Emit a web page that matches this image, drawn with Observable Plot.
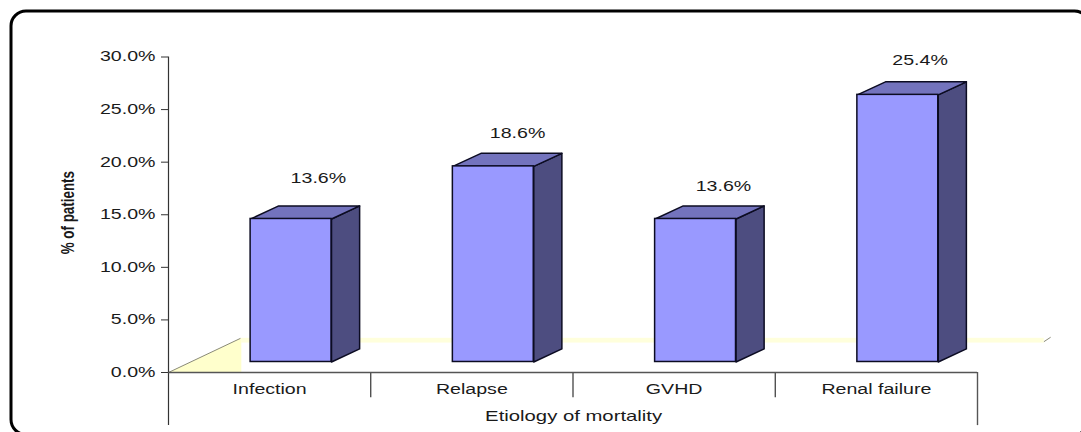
<!DOCTYPE html>
<html>
<head>
<meta charset="utf-8">
<script src="https://cdn.jsdelivr.net/npm/d3@7"></script>
<script src="https://cdn.jsdelivr.net/npm/@observablehq/plot@0.6"></script>
<style>
  html, body { margin: 0; padding: 0; background: #fff; }
  svg { display: block; }
</style>
</head>
<body>
<div id="chart"></div>
<script>
// Etiology of mortality, share of patients per cause
const categories = ["Infection", "Relapse", "GVHD", "Renal failure"];
const percentages = [13.6, 18.6, 13.6, 25.4];
const yTicks = [0, 5, 10, 15, 20, 25, 30];
const groupBoundaries = [1, 2, 3];

// Pseudo-3D construction, in axis units
const barStart = 0.406;
const barWidth = 0.4;
const depthX = 0.139;
const depthY = 1.24;
const floorLift = 1.0;
const labelLift = [3.8, 3.1, 3.1, 3.25];
const labelShift = [0.335, 0.32, 0.338, 0.31];

const bars = categories.map((name, i) => {
  const left = i + barStart;
  const right = left + barWidth;
  return {name, value: percentages[i], left, right, base: floorLift, top: percentages[i] + floorLift};
});

// Closed outlines for the top and side faces of each bar
const topFaces = bars.flatMap((b) => [
  [b.left, b.top], [b.left + depthX, b.top + depthY], [b.right + depthX, b.top + depthY], [b.right, b.top], [b.left, b.top]
].map(([x, y]) => ({id: b.name, x, y})));
const sideFaces = bars.flatMap((b) => [
  [b.right, b.top], [b.right + depthX, b.top + depthY], [b.right + depthX, b.base + depthY], [b.right, b.base], [b.right, b.top]
].map(([x, y]) => ({id: b.name, x, y})));

const floorWedge = [{x: 0, y: 0}, {x: 0.354, y: 3.23}, {x: 0.36, y: 3.23}, {x: 0.36, y: 0}];
const floorBand = [{x1: 0.36, x2: 4.33, y1: 2.8, y2: 3.25}];
const floorEdge = [{x: 0, y: 0}, {x: 0.354, y: 3.23}];
const floorCorner = [{x: 4.33, y: 2.95}, {x: 4.36, y: 3.33}];

const axisColor = "#555";
const barEdge = "#0c0c22";
const textColor = "#1a1a1a";
const font = 14;

const plot = Plot.plot({
  width: 1081,
  height: 432,
  marginTop: 0, marginRight: 0, marginBottom: 0, marginLeft: 0,
  style: {fontFamily: "'Liberation Sans', Arial, sans-serif", background: "#fff"},
  x: {type: "linear", domain: [0, 4], range: [168, 977], axis: null},
  y: {type: "linear", domain: [0, 30], range: [372, 56.5], axis: null},
  marks: [
    // Chart panel
    Plot.frame({stroke: "#000", strokeWidth: 3, fill: "none", rx: 15, insetLeft: 10.5, insetTop: 10.5, insetRight: -8, insetBottom: -2}),

    // Floor
    Plot.line(floorWedge, {x: "x", y: "y", fill: "#ffffcc", stroke: "none"}),
    Plot.rect(floorBand, {x1: "x1", x2: "x2", y1: "y1", y2: "y2", fill: "#ffffdc"}),
    Plot.line(floorEdge, {x: "x", y: "y", stroke: "#8a8a78", strokeWidth: 1}),
    Plot.line(floorCorner, {x: "x", y: "y", stroke: "#8a8a78", strokeWidth: 1}),

    // Value and category axes
    Plot.ruleX([0], {y1: -5.05, y2: 30, stroke: "#333", strokeWidth: 1.2}),
    Plot.ruleX([4], {y1: -5.05, y2: 0, stroke: axisColor, strokeWidth: 1.4}),
    Plot.ruleX(groupBoundaries, {y1: -2.4, y2: 0, stroke: "#333", strokeWidth: 1.2}),
    Plot.ruleY([0], {x1: 0, x2: 4, stroke: axisColor, strokeWidth: 1.6}),
    Plot.axisY(yTicks, {
      anchor: "left", x: 0, tickSize: 7, tickPadding: 6, fontSize: font, stroke: "#333", fill: textColor,
      tickFormat: (d) => d.toFixed(1) + "%", label: null
    }),

    // Bars
    Plot.line(sideFaces, {x: "x", y: "y", z: "id", fill: "#4d4d80", stroke: barEdge, strokeWidth: 1.5}),
    Plot.line(topFaces, {x: "x", y: "y", z: "id", fill: "#7373bd", stroke: barEdge, strokeWidth: 1.5}),
    Plot.rect(bars, {x1: "left", x2: "right", y1: "base", y2: "top", fill: "#9999ff", stroke: barEdge, strokeWidth: 1.5}),

    // Value labels
    Plot.text(bars, {
      x: (d, i) => i + barStart + labelShift[i],
      y: (d, i) => d.top + labelLift[i],
      text: (d) => d.value.toFixed(1) + "%",
      fontSize: font, fill: textColor
    }),

    // Category labels and axis titles
    Plot.text(categories, {
      x: (d, i) => i + 0.5, y: () => -1.6, text: (d) => d,
      fontSize: font, fill: textColor
    }),
    Plot.text(["Etiology of mortality"], {x: () => 2.003, y: () => -4.15, text: (d) => d, fontSize: 14.5, fill: textColor}),
    Plot.text(["% of patients"], {
      x: () => -0.498, y: () => 15.2, text: (d) => d, rotate: -90,
      fontSize: 13.4, fontWeight: "bold", fill: textColor
    })
  ]
});

// Lettering is set wide along the page's horizontal direction
d3.select(plot).selectAll("text").each(function () {
  const t = this.getAttribute("transform") || "";
  this.setAttribute("transform", t + (t.includes("rotate") ? " scale(1,1.35)" : " scale(1.4,1)"));
});

document.getElementById("chart").appendChild(plot);
</script>
</body>
</html>
